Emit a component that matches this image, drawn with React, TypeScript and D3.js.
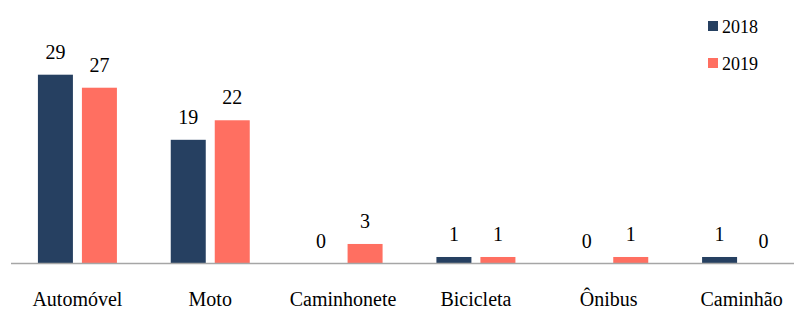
import { useEffect, useRef } from 'react';
import * as d3 from 'd3';

const categories = ['Automóvel', 'Moto', 'Caminhonete', 'Bicicleta', 'Ônibus', 'Caminhão'];
const seriesNames = ['2018', '2019'];
const values2018 = [29, 19, 0, 1, 0, 1];
const values2019 = [27, 22, 3, 1, 1, 0];
const colors = ['#264061', '#FF6F61'];

const width = 794;
const height = 311;

function App() {
  const ref = useRef<SVGSVGElement>(null);

  useEffect(() => {
    const svg = d3.select(ref.current);
    svg.selectAll('*').remove();

    const baseline = 263.5;
    const font = "'Liberation Serif', 'DejaVu Serif', serif";

    const x0 = d3.scaleBand().domain(categories).range([11, 808]);
    const x1 = d3.scaleBand().domain(seriesNames).range([-39.5, 39.5]).paddingInner(9 / 44);
    const y = d3.scaleLinear().domain([0, 29]).range([baseline, 74.7]);

    const rows = categories.map((c, i) => ({ cat: c, vals: [values2018[i], values2019[i]] }));

    const groups = svg.append('g')
      .selectAll('g')
      .data(rows)
      .join('g')
        .attr('transform', d => `translate(${x0(d.cat)! + x0.bandwidth() / 2},0)`);

    groups.selectAll('rect')
      .data(d => d.vals.map((v, k) => ({ key: seriesNames[k], v, k })))
      .join('rect')
        .attr('x', d => x1(d.key)!)
        .attr('width', x1.bandwidth())
        .attr('y', d => y(d.v))
        .attr('height', d => baseline - y(d.v))
        .attr('fill', d => colors[d.k]);

    groups.selectAll('text.val')
      .data(d => d.vals.map((v, k) => ({ key: seriesNames[k], v })))
      .join('text')
        .attr('class', 'val')
        .attr('x', d => x1(d.key)! + x1.bandwidth() / 2)
        .attr('y', d => y(d.v) - 16)
        .attr('text-anchor', 'middle')
        .style('font-family', font)
        .style('font-size', '20px')
        .attr('fill', '#000')
        .text(d => d.v);

    // axis line
    svg.append('line')
      .attr('x1', 11)
      .attr('x2', width)
      .attr('y1', baseline)
      .attr('y2', baseline)
      .attr('stroke', '#A6A6A6')
      .attr('stroke-width', 1.5);

    // category labels
    svg.append('g')
      .selectAll('text')
      .data(categories)
      .join('text')
        .attr('x', d => x0(d)! + x0.bandwidth() / 2)
        .attr('y', 306)
        .attr('text-anchor', 'middle')
        .style('font-family', font)
        .style('font-size', '20px')
        .attr('fill', '#000')
        .text(d => d);

    // legend
    const legend = svg.append('g')
      .selectAll('g')
      .data(seriesNames)
      .join('g')
        .attr('transform', (d, i) => `translate(708,${21 + i * 37})`);

    legend.append('rect')
      .attr('width', 10)
      .attr('height', 10)
      .attr('fill', (d, i) => colors[i]);

    legend.append('text')
      .attr('x', 14)
      .attr('y', 12)
      .style('font-family', font)
      .style('font-size', '18px')
      .attr('fill', '#000')
      .text(d => d);
  }, []);

  return (
    <svg
      ref={ref}
      width={width}
      height={height}
      style={{ position: 'absolute', left: 0, top: 0, background: '#fff' }}
    />
  );
}

export default App;
